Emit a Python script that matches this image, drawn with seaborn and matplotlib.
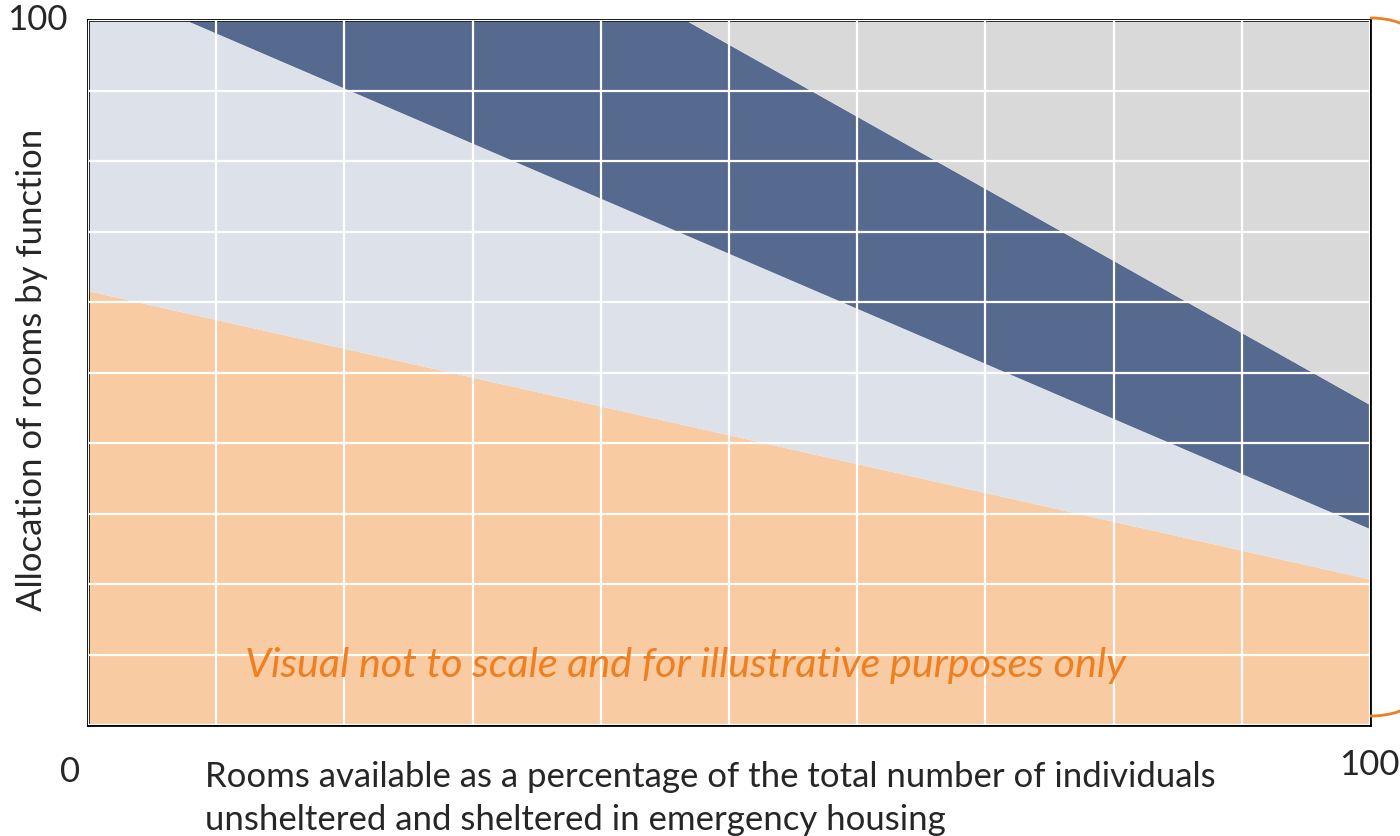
import numpy as np
import matplotlib
matplotlib.use("Agg")
import matplotlib.pyplot as plt
import seaborn as sns
from matplotlib.patches import Arc

# boundaries of each band, read at x = 0 and x = 100 (values above 100 are clipped)
x = [0, 100]
orange_top = [61.6, 20.7]
dark_bottom = [105.9, 27.8]
dark_top = [147.6, 45.4]
ceiling = [200, 200]

xlabel_lines = ["Rooms available as a percentage of the total number of individuals",
                "unsheltered and sheltered in emergency housing"]
ylabel = "Allocation of rooms by function"
note = "Visual not to scale and for illustrative purposes only"

c_orange = "#F8CBA2"
c_light = "#DDE1E9"
c_dark = "#56698F"
c_gray = "#D9D9D9"
c_text_orange = "#F07F1F"

sns.set_style("white")
plt.rcParams["font.family"] = ["Lato", "DejaVu Sans"]

fig = plt.figure(figsize=(14, 8.36), dpi=100)
ax = fig.add_axes([88 / 1400, 1 - 725 / 836, 1282 / 1400, 705 / 836])

ax.fill_between(x, 0, orange_top, color=c_orange, lw=0)
ax.fill_between(x, orange_top, dark_bottom, color=c_light, lw=0)
ax.fill_between(x, dark_bottom, dark_top, color=c_dark, lw=0)
ax.fill_between(x, dark_top, ceiling, color=c_gray, lw=0)

ax.set_xlim(0, 100)
ax.set_ylim(0, 100)
ax.set_xticks(np.arange(0, 101, 10))
ax.set_yticks(np.arange(0, 101, 10))
ax.set_xticklabels([])
ax.set_yticklabels([])
ax.tick_params(length=0)
ax.grid(True, color="white", lw=1.6)
ax.set_axisbelow(False)
for s in ax.spines.values():
    s.set_color("black")
    s.set_linewidth(2)
    s.set_visible(True)

ax.text(46.6, 8.5, note, ha="center", va="center", fontsize=29.8,
        style="italic", color=c_text_orange)

fs = 25
# axis end labels
fig.text(37 / 1400, 1 - 20 / 836, "100", ha="center", va="center", fontsize=fs)
fig.text(70 / 1400, 1 - 772 / 836, "0", ha="center", va="center", fontsize=fs)
fig.text(1369 / 1400, 1 - 765 / 836, "100", ha="center", va="center", fontsize=fs)

fig.text(205 / 1400, 1 - 777 / 836, xlabel_lines[0], ha="left", va="center", fontsize=fs)
fig.text(205 / 1400, 1 - 820 / 836, xlabel_lines[1], ha="left", va="center", fontsize=fs)
fig.text(32 / 1400, 1 - 370 / 836, ylabel, rotation=90, ha="center", va="center", fontsize=fs)

# partial brace on the right edge
fig.patches.append(Arc((1370 / 1400, 1 - 33 / 836), 80 / 1400, 30 / 836,
                       theta1=0, theta2=90, transform=fig.transFigure,
                       color=c_text_orange, lw=2))
fig.patches.append(Arc((1370 / 1400, 1 - 701 / 836), 80 / 1400, 30 / 836,
                       theta1=270, theta2=360, transform=fig.transFigure,
                       color=c_text_orange, lw=2))

fig.savefig("out.png", dpi=100)
